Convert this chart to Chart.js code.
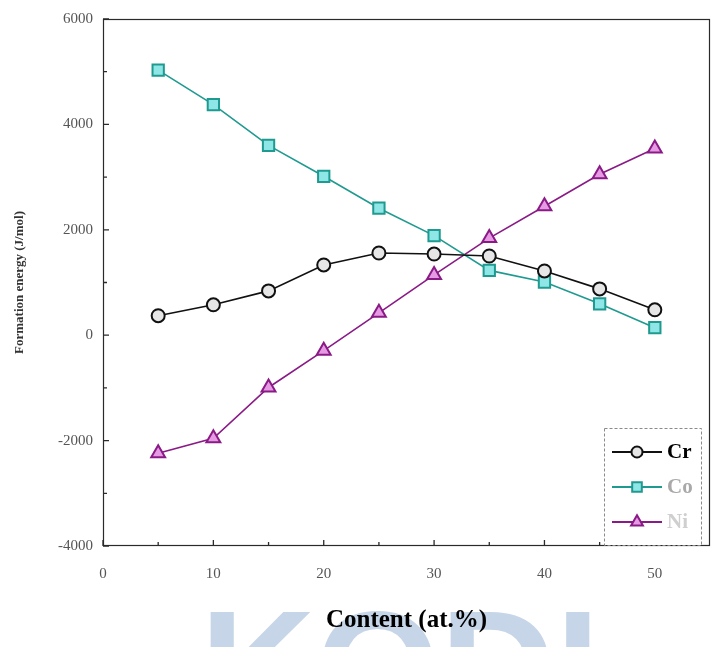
<!DOCTYPE html>
<html>
<head>
<meta charset="utf-8">
<script src="https://cdn.jsdelivr.net/npm/chart.js@4"></script>
<style>
html,body{margin:0;padding:0;background:#fff;overflow:hidden;}
#wrap{width:715px;height:647px;position:relative;overflow:hidden;}
canvas{display:block;}
</style>
</head>
<body>
<div id="wrap"><canvas id="c" width="715" height="647"></canvas></div>
<script>
// ---- data ----
const content = [5, 10, 15, 20, 25, 30, 35, 40, 45, 50];
const crValues = [370, 577, 841, 1333, 1560, 1540, 1503, 1219, 879, 482];
const coValues = [5030, 4376, 3601, 3015, 2410, 1890, 1230, 1010, 595, 142];
const niValues = [-2240, -1957, -992, -293, 425, 1143, 1843, 2448, 3053, 3544];
const seriesNames = ['Cr', 'Co', 'Ni'];
const xTickLabels = [0, 10, 20, 30, 40, 50];
const yTickLabels = [-4000, -2000, 0, 2000, 4000, 6000];

const serif = "'Liberation Serif', 'DejaVu Serif', serif";
const pts = vals => content.map((x, i) => ({x: x, y: vals[i]}));

const styles = [
  {border: '#111111', bg: '#e6e6e6', shape: 'circle', r: 6.5, legendColor: '#000000'},
  {border: '#1f9a90', bg: '#8fe6e6', shape: 'rect', r: 8, legendColor: '#a9a9a9'},
  {border: '#8a1a86', bg: '#e79ae4', shape: 'triangle', r: 8, legendColor: '#cfcfcf'}
];
const allVals = [crValues, coValues, niValues];

const datasets = seriesNames.map((n, k) => ({
  label: n,
  data: pts(allVals[k]),
  borderColor: styles[k].border,
  backgroundColor: styles[k].bg,
  pointBackgroundColor: styles[k].bg,
  pointBorderColor: styles[k].border,
  pointBorderWidth: 2,
  pointStyle: styles[k].shape,
  pointRadius: styles[k].r,
  borderWidth: 1.6,
  tension: 0
}));

const decor = {
  id: 'decor',
  beforeDraw(chart) {
    const ctx = chart.ctx;
    ctx.save();
    ctx.fillStyle = '#ffffff';
    ctx.fillRect(0, 0, chart.width, chart.height);
    // watermark
    ctx.fillStyle = '#c6d6e8';
    ctx.font = "bold 160px 'Liberation Sans', sans-serif";
    ctx.textBaseline = 'alphabetic';
    ctx.textAlign = 'left';
    ctx.fillText('KODI', 200, 722);
    ctx.restore();
  },
  afterDraw(chart) {
    const ctx = chart.ctx;
    const a = chart.chartArea;
    const xs = chart.scales.x, ys = chart.scales.y;
    ctx.save();
    // frame
    ctx.strokeStyle = '#2a2a2a';
    ctx.lineWidth = 1.2;
    ctx.strokeRect(a.left + 0.5, a.top + 0.5, a.right - a.left - 1, a.bottom - a.top - 1);
    // ticks (inward), major & minor
    ctx.lineWidth = 1.3;
    ctx.beginPath();
    for (let v = 0; v <= 50; v += 5) {
      const px = xs.getPixelForValue(v);
      const len = v % 10 === 0 ? 6 : 4;
      ctx.moveTo(px, a.bottom);
      ctx.lineTo(px, a.bottom - len);
    }
    for (let v = -4000; v <= 6000; v += 1000) {
      const py = ys.getPixelForValue(v);
      const len = v % 2000 === 0 ? 6 : 4;
      ctx.moveTo(a.left, py);
      ctx.lineTo(a.left + len, py);
    }
    ctx.stroke();

    // legend box
    const lx = 604, ly = 428, lw = 97, lh = 117;
    ctx.fillStyle = '#ffffff';
    ctx.fillRect(lx, ly, lw, lh);
    ctx.strokeStyle = '#8a8a8a';
    ctx.lineWidth = 1;
    ctx.setLineDash([3, 2]);
    ctx.strokeRect(lx + 0.5, ly + 0.5, lw, lh);
    ctx.setLineDash([]);
    const rowsY = [452, 487, 522];
    chart.data.datasets.forEach((ds, k) => {
      const y = rowsY[k];
      ctx.strokeStyle = ds.borderColor;
      ctx.lineWidth = 2;
      ctx.beginPath();
      ctx.moveTo(612, y);
      ctx.lineTo(662, y);
      ctx.stroke();
      const o = chart.getDatasetMeta(k).data[0].options;
      ctx.fillStyle = o.backgroundColor;
      ctx.strokeStyle = o.borderColor;
      ctx.lineWidth = o.borderWidth;
      Chart.helpers.drawPoint(ctx, {pointStyle: o.pointStyle, radius: o.radius * 0.85, borderWidth: o.borderWidth, rotation: 0}, 637, y);
      ctx.fillStyle = styles[k].legendColor;
      ctx.font = "bold 21px " + serif;
      ctx.textAlign = 'left';
      ctx.textBaseline = 'middle';
      ctx.fillText(ds.label, 667, y + 1);
    });
    ctx.restore();
  }
};

new Chart(document.getElementById('c'), {
  type: 'line',
  data: {datasets: datasets},
  plugins: [decor],
  options: {
    responsive: false,
    animation: false,
    devicePixelRatio: 1,
    layout: {autoPadding: false, padding: {top: 15, right: 5, left: 0, bottom: 0}},
    plugins: {legend: {display: false}, tooltip: {enabled: false}},
    scales: {
      x: {
        type: 'linear',
        min: 0, max: 55,
        afterBuildTicks: s => { s.ticks = xTickLabels.map(v => ({value: v})); },
        afterFit: s => { s.height = 101; s.paddingRight = 0; s.paddingLeft = 0; },
        grid: {display: false, drawTicks: false},
        border: {display: false},
        ticks: {padding: 19, color: '#555', font: {family: serif, size: 15}, callback: v => String(v)},
        title: {display: true, text: 'Content (at.%)', color: '#000', padding: {top: 0, bottom: 11},
                font: {family: serif, size: 25, weight: 'bold'}}
      },
      y: {
        type: 'linear',
        min: -4000, max: 6000,
        afterBuildTicks: s => { s.ticks = yTickLabels.map(v => ({value: v})); },
        afterFit: s => { s.width = 103; },
        grid: {display: false, drawTicks: false},
        border: {display: false},
        ticks: {padding: 10, color: '#555', font: {family: serif, size: 15}, callback: v => String(v)},
        title: {display: true, text: 'Formation energy (J/mol)', color: '#333', padding: {top: 12, bottom: 0},
                font: {family: serif, size: 13, weight: 'bold'}}
      }
    }
  }
});
</script>
</body>
</html>
